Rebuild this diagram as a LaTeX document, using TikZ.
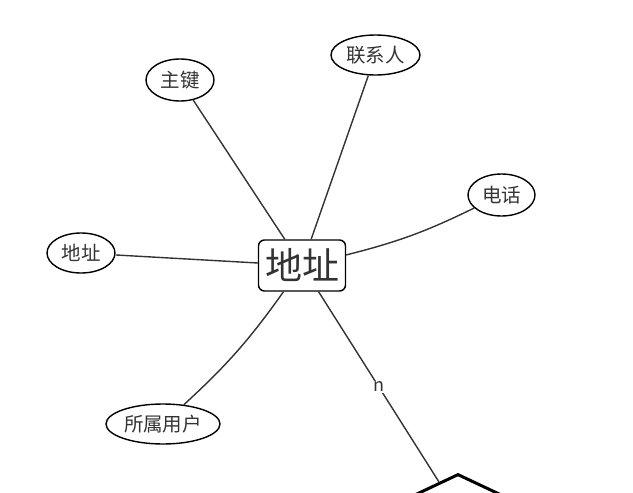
\documentclass[tikz,border=0pt]{standalone}
\usepackage{fontspec}
\setmainfont{Noto Sans CJK SC}
\usetikzlibrary{shapes.geometric}
\definecolor{ink}{HTML}{333333}
\tikzset{
  attr/.style={ellipse, draw=black, line width=1.4pt, inner sep=0pt, text=ink, font=\fontsize{19.5}{21}\selectfont},
  ent/.style={rectangle, rounded corners=6pt, draw=black, line width=1.4pt, text=ink, minimum width=87pt, minimum height=51pt, inner sep=0pt, font=\fontsize{37}{40}\selectfont},
  rel/.style={diamond, draw=black, line width=3pt, minimum width=160pt, minimum height=76pt, inner sep=0pt},
  conn/.style={draw=ink, line width=1.4pt},
  lbl/.style={fill=white, text=ink, inner sep=1pt, font=\fontsize{18}{19}\selectfont}
}
\begin{document}
\begin{tikzpicture}[x=1pt,y=-1pt]
\useasboundingbox (0,0) rectangle (633,493);
\clip (0,0) rectangle (633,493);
\fill[white] (0,0) rectangle (633,493);
\node[ent] (e) at (302,265.5) {地址};
\node[attr, minimum width=68pt, minimum height=42pt] (k) at (180,80) {主键};
\node[attr, minimum width=89pt, minimum height=40pt] (c) at (375.5,55) {联系人};
\node[attr, minimum width=67pt, minimum height=42pt] (t) at (501.5,195) {电话};
\node[attr, minimum width=68pt, minimum height=40pt] (a) at (81,253) {地址};
\node[attr, minimum width=114pt, minimum height=40pt] (u) at (163,424) {所属用户};
\node[rel] (r) at (458,512) {};
\draw[conn] (k) -- (e);
\draw[conn] (c) -- (e);
\draw[conn] (a) -- (e);
\draw[conn] (t) to[bend left=6] (e);
\draw[conn] (u) to[bend right=6] (e);
\draw[conn] (e) -- node[lbl, pos=0.5] {n} (r);
\end{tikzpicture}
\end{document}
